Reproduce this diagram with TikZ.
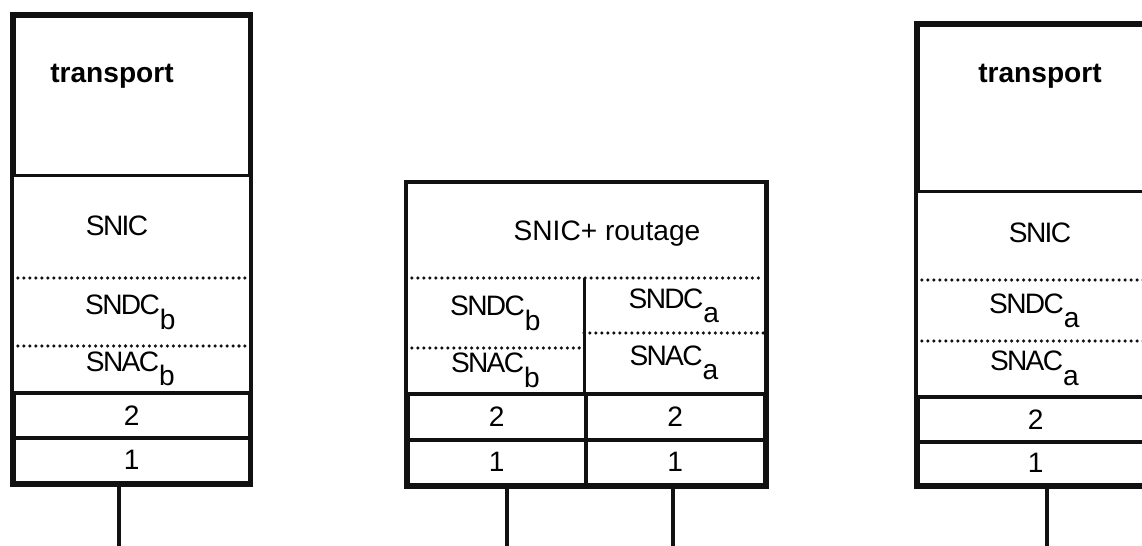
\documentclass[tikz,border=0pt]{standalone}
\usepackage{fontspec}
\setmainfont{Liberation Sans}
\newfontfamily\tightfont[LetterSpace=-6]{Liberation Sans}
\usetikzlibrary{positioning}
\definecolor{figink}{HTML}{111111}
\newcommand\lowr[1]{\raisebox{-8pt}{#1}}

\begin{document}
\begin{tikzpicture}[
  x=0.02cm, y=-0.02cm,
  line join=miter,
  lay/.style  = {draw=figink, line width=2pt, inner sep=0pt, anchor=north west,
                 font=\fontsize{16}{18}\selectfont},
  cell/.style = {inner sep=0pt, anchor=north west,
                 font=\tightfont\fontsize{16}{18}\selectfont},
  txt/.style  = {inner sep=0pt, font=\fontsize{16}{18}\selectfont},
  ttl/.style  = {inner sep=0pt, font=\fontsize{16}{18}\selectfont\bfseries},
  frame/.style = {draw=figink, line width=2.3pt},
  sep/.style  = {draw=figink, line width=2pt, line cap=round, dash pattern=on 0pt off 3.4pt},
  wire/.style = {draw=figink, line width=2pt}
]
\useasboundingbox (0,0) rectangle (1142,546);
\clip (0,0) rectangle (1142,546);

% pile de gauche
\node[lay, minimum width=4.72cm, minimum height=3.2cm] (ltr) at (12,14) {};
\node[cell, minimum width=4.72cm, minimum height=1.36cm] (ldc) at (12,278) {SNDC\lowr{b}};
\node[cell, minimum width=4.72cm, minimum height=0.9cm] (lac) at (12,346) {SNAC\lowr{b}};
\node[lay, minimum width=4.72cm, minimum height=0.9cm] (l2) at (12,391) {2};
\node[lay, minimum width=4.72cm, minimum height=0.9cm] (l1) at (12,436) {1};
\node[ttl] (ltxt) at (112,76) {transport};
\node[txt, font=\tightfont\fontsize{16}{18}\selectfont] (lsnic) at (117,226) {SNIC};
\coordinate (lend) at (119,546);

% relais au milieu
\node[cell, minimum width=7.14cm, minimum height=1.92cm] (mic) at (406,182) {};
\node[cell, minimum width=3.56cm, minimum height=1.4cm] (mdb) at (406,278) {SNDC\lowr{b}};
\node[cell, minimum width=3.56cm, minimum height=0.88cm] (mab) at (406,348) {SNAC\lowr{b}};
\node[cell, minimum width=3.58cm, minimum height=1.1cm] (mda) at (584,278) {SNDC\lowr{a}};
\node[cell, minimum width=3.58cm, minimum height=1.18cm] (maa) at (584,333) {SNAC\lowr{a}};
\node[lay, minimum width=3.56cm, minimum height=0.92cm] (m2b) at (406,392) {2};
\node[lay, minimum width=3.58cm, minimum height=0.92cm] (m2a) at (584,392) {2};
\node[lay, minimum width=3.56cm, minimum height=0.9cm] (m1b) at (406,438) {1};
\node[lay, minimum width=3.58cm, minimum height=0.9cm] (m1a) at (584,438) {1};
\node[txt] (mtxt) at (607,234) {SNIC+ routage};
\coordinate (mbend) at (507,546);
\coordinate (maend) at (673,546);

% pile de droite
\node[lay, minimum width=4.72cm, minimum height=3.34cm] (rtr) at (916,23) {};
\node[cell, minimum width=4.72cm, minimum height=1.22cm] (rdc) at (916,280) {SNDC\lowr{a}};
\node[cell, minimum width=4.72cm, minimum height=1.08cm] (rac) at (916,341) {SNAC\lowr{a}};
\node[lay, minimum width=4.72cm, minimum height=0.9cm] (r2) at (916,395) {2};
\node[lay, minimum width=4.72cm, minimum height=0.86cm] (r1) at (916,440) {1};
\node[ttl] (rtxt) at (1040,76) {transport};
\node[txt, font=\tightfont\fontsize{16}{18}\selectfont] (rsnic) at (1040,233) {SNIC};
\coordinate (rend) at (1047,546);

% cadres et separations
\draw[frame] (ltr.north west) rectangle (l1.south east);
\draw[frame] (mic.north west) rectangle (m1a.south east);
\draw[frame] (rtr.north west) rectangle (r1.south east);
\draw[wire] (mdb.north east) -- (mab.south east);

\draw[sep] (ldc.north west) -- (ldc.north east);
\draw[sep] (lac.north west) -- (lac.north east);
\draw[sep] (mdb.north west) -- (mda.north east);
\draw[sep] (mab.north west) -- (mab.north east);
\draw[sep] (maa.north west) -- (maa.north east);
\draw[sep] (rdc.north west) -- (rdc.north east);
\draw[sep] (rac.north west) -- (rac.north east);

% liaisons vers le support
\draw[wire] (l1.south -| lend) -- (lend);
\draw[wire] (m1b.south -| mbend) -- (mbend);
\draw[wire] (m1a.south -| maend) -- (maend);
\draw[wire] (r1.south -| rend) -- (rend);

\end{tikzpicture}
\end{document}
